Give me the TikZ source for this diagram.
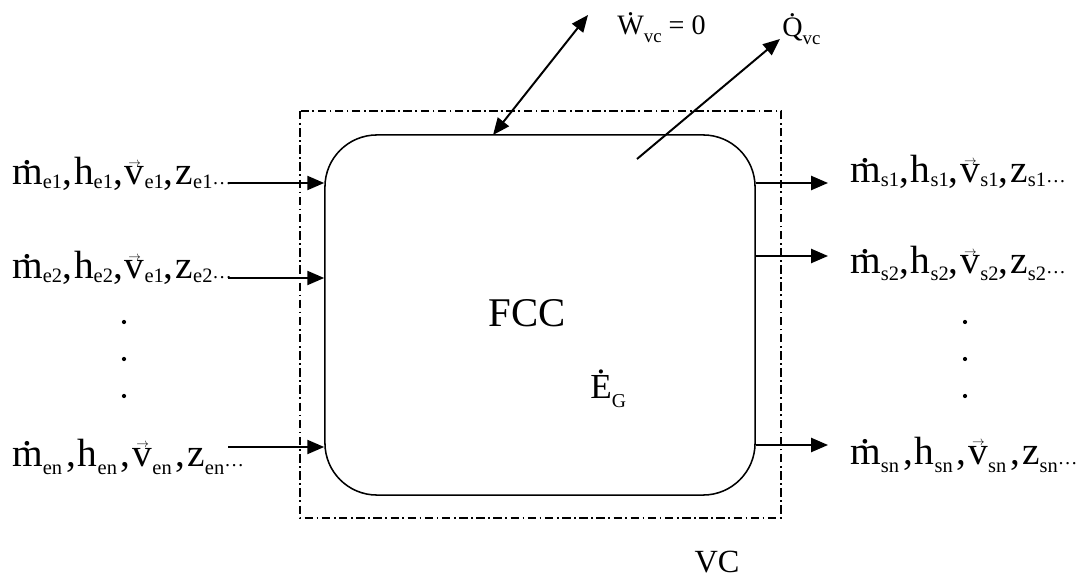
\documentclass[tikz,border=0pt]{standalone}
\usepackage{fontspec}
\setmainfont{Liberation Serif}
\usepackage{graphicx}
\usetikzlibrary{arrows.meta}

\newcommand{\subscale}{0.52}
\newcommand{\dotover}[1]{{\setbox0\hbox{#1}\ooalign{#1\cr\hidewidth\raisebox{\dimexpr\ht0+0.05em\relax}{.}\hidewidth\cr}}}
\newcommand{\vecover}[1]{{\setbox0\hbox{#1}\ooalign{#1\cr\hidewidth\raisebox{\dimexpr\ht0+0.01em\relax}{\resizebox{0.32em}{!}{$\rightarrow$}}\hidewidth\cr}}}
\newcommand{\lo}[2][0.1em]{\raisebox{-#1}{\scalebox{\subscale}{#2}}}
\newcommand{\tail}{\scalebox{0.5}{\dots}}
\newcommand{\ca}{,\kern0.05em}
\newcommand{\cb}{\kern0.1em,\kern0.05em}

\begin{document}
\begin{tikzpicture}[x=0.025cm,y=-0.025cm,
	lbl/.style={inner sep=0pt,font=\fontsize{28}{32}\selectfont},
	flow/.style={line width=1.4pt,-{Triangle[length=12pt,width=10pt]}},
	work/.style={line width=1.4pt,{Triangle[length=12pt,width=10pt]}-{Triangle[length=12pt,width=10pt]}}]
	\useasboundingbox (0,0) rectangle (1090,576);
	% volume de controle
	\draw[line width=0.9pt,dash pattern=on 6pt off 2.5pt on 1.2pt off 2.5pt] (300,111) rectangle (781,518);
	\node[draw,line width=1.1pt,rounded corners=1.3cm,minimum width=10.75cm,minimum height=9cm] (fcc) at (540,315) {};
	\node[lbl,font=\fontsize{29}{34}\selectfont,anchor=base] (nome) at (527,327) {FCC};
	\node[lbl,font=\fontsize{25}{30}\selectfont,anchor=base west] (eg) at (590,398) {\renewcommand{\subscale}{0.56}\dotover{E}\lo[0.26em]{G}};
	\node[lbl,font=\fontsize{23}{28}\selectfont,anchor=base] (vc) at (717,572) {VC};
	% entradas
	\node[lbl,anchor=base west] (e1) at (12,185) {\dotover{m}\lo{e1}\ca h\lo{e1}\ca\vecover{v}\lo{e1}\ca z\lo{e1}\tail};
	\node[lbl,anchor=base west] (e2) at (12,279) {\dotover{m}\lo{e2}\ca h\lo{e2}\ca\vecover{v}\lo{e1}\ca z\lo{e2}\tail};
	\node[lbl,anchor=base west] (en) at (12,466) {\dotover{m}\lo[0.22em]{en}\cb h\lo[0.22em]{en}\cb\vecover{v}\lo[0.22em]{en}\cb z\lo[0.22em]{en}\tail};
	\coordinate (e1a) at (228,183);
	\coordinate (e2a) at (228,278);
	\coordinate (ena) at (228,447);
	\draw[flow] (e1a) -- (e1a -| fcc.west);
	\draw[flow] (e2a) -- (e2a -| fcc.west);
	\draw[flow] (ena) -- (ena -| fcc.west);
	% saidas
	\node[lbl,anchor=base west] (s1) at (850,183) {\dotover{m}\lo{s1}\ca h\lo{s1}\ca\vecover{v}\lo{s1}\ca z\lo{s1}\tail};
	\node[lbl,anchor=base west] (s2) at (850,274) {\dotover{m}\lo[0.17em]{s2}\ca h\lo[0.17em]{s2}\ca\vecover{v}\lo[0.17em]{s2}\ca z\lo[0.17em]{s2}\tail};
	\node[lbl,anchor=base west] (sn) at (850,464) {\dotover{m}\lo[0.22em]{sn}\cb h\lo[0.22em]{sn}\cb\vecover{v}\lo[0.22em]{sn}\cb z\lo[0.22em]{sn}\tail};
	\coordinate (s1a) at (828,183);
	\coordinate (s2a) at (828,256);
	\coordinate (sna) at (828,445);
	\draw[flow] (s1a -| fcc.east) -- (s1a);
	\draw[flow] (s2a -| fcc.east) -- (s2a);
	\draw[flow] (sna -| fcc.east) -- (sna);
	\foreach \y in {322,359,396} {
		\fill (124,\y) circle (1.5pt);
		\fill (965,\y) circle (1.5pt);
	}
	% trabalho e calor
	\node[lbl,font=\fontsize{20}{24}\selectfont,anchor=base west] (w) at (617,35) {\renewcommand{\subscale}{0.67}\dotover{W}\lo[0.28em]{vc} = 0};
	\node[lbl,font=\fontsize{20}{24}\selectfont,anchor=base west] (q) at (782,37) {\renewcommand{\subscale}{0.67}\dotover{Q}\lo[0.28em]{vc}};
	\coordinate (wa) at (588,15);
	\coordinate (wb) at (493,135);
	\draw[work] (wb) -- (wa);
	\coordinate (qa) at (637,159);
	\coordinate (qb) at (780,39);
	\draw[flow] (qa) -- (qb);
\end{tikzpicture}
\end{document}
